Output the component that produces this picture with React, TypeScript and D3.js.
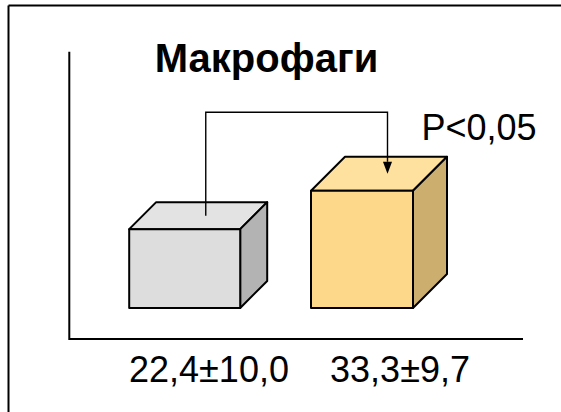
import * as d3 from "d3";

// data
const categories = ["22,4±10,0", "33,3±9,7"];
const values = [22.4, 33.3];
const title = "Макрофаги";
const pLabel = "P<0,05";

// box look, per category
const BOX = [
  { width: 111, depth: 27, front: "#dddddd", top: "#e3e3e3", side: "#b3b3b3" },
  { width: 102, depth: 34, front: "#fdd78a", top: "#fee09f", side: "#ccaf6e" },
];

const W = 561;
const H = 412;
const FONT = "'Liberation Sans', Arial, sans-serif";

export default function App() {
  const baseY = 308;
  const x = d3.scalePoint<string>().domain(categories).range([184.7, 362]);
  // labels sit a bit right of the boxes
  const xLabel = d3.scalePoint<string>().domain(categories).range([209, 400]);
  const y = d3.scaleLinear().domain([0, 40]).range([baseY, baseY - 140.8]);

  const boxes = categories.map((c, i) => {
    const b = BOX[i];
    const cx = x(c)!;
    const x0 = cx - b.width / 2;
    const x1 = cx + b.width / 2;
    const yt = y(values[i]);
    const d = b.depth;
    return { c, b, cx, x0, x1, yt, d };
  });

  const g0 = boxes[0];
  const g1 = boxes[1];
  const bx0 = g0.cx + 0.78 * g0.d;
  const by0 = g0.yt - g0.d / 2;
  const bx1 = g1.cx + 0.75 * g1.d;
  const by1 = g1.yt - g1.d / 2;
  const topY = 112.3;
  const bracket = d3.line()([
    [bx0, by0],
    [bx0, topY],
    [bx1, topY],
    [bx1, by1 - 12],
  ]);

  return (
    <svg
      width={W}
      height={H}
      style={{ position: "absolute", left: 0, top: 0, background: "#fff" }}
      fontFamily={FONT}
    >
      {/* frame, cut at right and bottom */}
      <line x1={8.5} y1={5.5} x2={W} y2={5.5} stroke="#000" strokeWidth={2} />
      <line x1={8.5} y1={5.5} x2={8.5} y2={H} stroke="#000" strokeWidth={2} />

      {/* axes */}
      <path d="M69.3,51.7V339H523" fill="none" stroke="#000" strokeWidth={2} />

      <text x={266.5} y={72} textAnchor="middle" fontSize={40} fontWeight="bold">
        {title}
      </text>

      {boxes.map(({ c, b, x0, x1, yt, d }) => (
        <g key={c} stroke="#000" strokeWidth={2} strokeLinejoin="round">
          <path
            d={`M${x0},${yt}L${x0 + d},${yt - d}L${x1 + d},${yt - d}L${x1},${yt}Z`}
            fill={b.top}
          />
          <path
            d={`M${x1},${yt}L${x1 + d},${yt - d}L${x1 + d},${baseY - d}L${x1},${baseY}Z`}
            fill={b.side}
          />
          <rect x={x0} y={yt} width={x1 - x0} height={baseY - yt} fill={b.front} />
        </g>
      ))}

      <path d={bracket ?? ""} fill="none" stroke="#000" strokeWidth={1.4} />
      <path
        d={`M${bx1 - 4.5},${by1 - 12}L${bx1 + 4.5},${by1 - 12}L${bx1},${by1}Z`}
        fill="#000"
      />
      <text x={421.5} y={140} fontSize={36}>
        {pLabel}
      </text>

      {categories.map((c) => (
        <text key={c} x={xLabel(c)!} y={382} textAnchor="middle" fontSize={36}>
          {c}
        </text>
      ))}
    </svg>
  );
}
